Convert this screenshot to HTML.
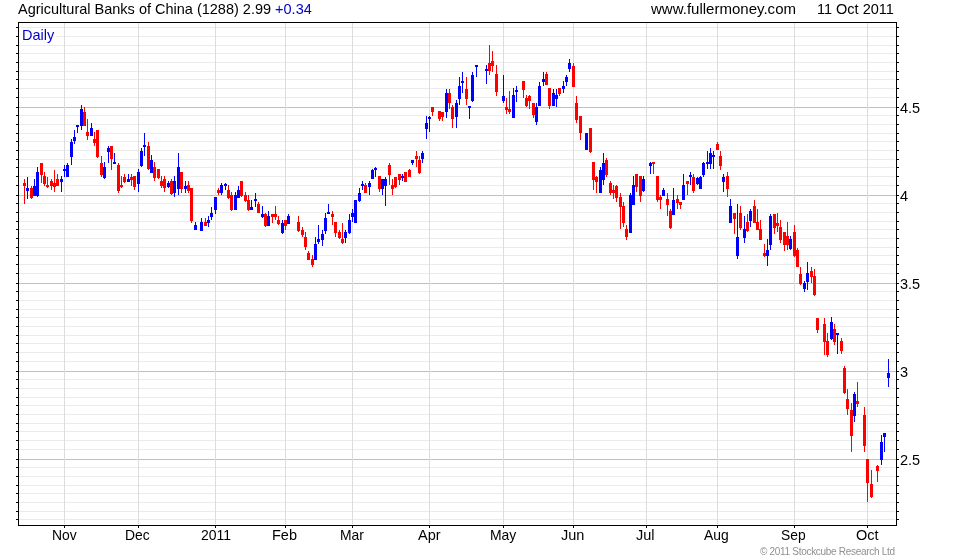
<!DOCTYPE html><html><head><meta charset="utf-8"><style>html,body{margin:0;padding:0;background:#fff;width:980px;height:560px;overflow:hidden}svg{display:block}text{font-family:"Liberation Sans",sans-serif}</style></head><body><svg width="980" height="560" viewBox="0 0 980 560" shape-rendering="crispEdges"><rect width="980" height="560" fill="#fff"/><path d="M19 27.5H895M19 36.5H895M19 45.5H895M19 53.5H895M19 62.5H895M19 71.5H895M19 79.5H895M19 88.5H895M19 97.5H895M19 115.5H895M19 124.5H895M19 133.5H895M19 141.5H895M19 150.5H895M19 159.5H895M19 167.5H895M19 176.5H895M19 185.5H895M19 203.5H895M19 212.5H895M19 221.5H895M19 229.5H895M19 238.5H895M19 247.5H895M19 255.5H895M19 264.5H895M19 273.5H895M19 291.5H895M19 300.5H895M19 309.5H895M19 317.5H895M19 326.5H895M19 335.5H895M19 343.5H895M19 352.5H895M19 361.5H895M19 379.5H895M19 388.5H895M19 397.5H895M19 405.5H895M19 414.5H895M19 423.5H895M19 431.5H895M19 440.5H895M19 449.5H895M19 467.5H895M19 476.5H895M19 485.5H895M19 493.5H895M19 502.5H895M19 511.5H895M19 519.5H895" stroke="#ebebeb" stroke-width="1" fill="none"/><path d="M19 107.5H896M19 195.5H896M19 283.5H896M19 371.5H896M19 459.5H896" stroke="#c0c0c0" stroke-width="1" fill="none"/><path d="M64.5 23V524M138.5 23V524M215.5 23V524M285.5 23V524M352.5 23V524M429.5 23V524M503.5 23V524M573.5 23V524M646.5 23V524M717.5 23V524M794.5 23V524M867.5 23V524" stroke="#dcdcdc" stroke-width="1" fill="none"/><path d="M27.5 177V199M34.5 179V196M37.5 167V197M61.5 176V192M64.5 165V177M67.5 163V177M71.5 139V165M74.5 130V144M77.5 125V133M81.5 105V130M91.5 123V136M104.5 162V179M108.5 146V163M114.5 153V164M128.5 174V182M138.5 169V192M141.5 148V167M144.5 133V156M151.5 155V173M168.5 181V188M174.5 176V197M178.5 153V195M185.5 181V193M195.5 222V230M201.5 218V231M208.5 216V227M211.5 207V220M215.5 197V214M221.5 183V195M225.5 183V190M235.5 192V210M238.5 186V198M251.5 200V210M255.5 193V207M262.5 206V218M268.5 211V226M282.5 220V234M288.5 214V224M315.5 237V260M318.5 225V244M322.5 230V246M325.5 213V234M328.5 204V214M345.5 230V243M349.5 214V234M352.5 209V222M355.5 200V223M359.5 188V202M362.5 181V190M369.5 181V195M372.5 169V179M375.5 167V177M382.5 179V195M385.5 177V206M402.5 174V181M412.5 160V165M422.5 151V163M426.5 116V139M429.5 116V132M446.5 89V118M456.5 100V128M459.5 77V105M462.5 72V93M469.5 106V119M472.5 72V102M476.5 65V77M486.5 65V84M503.5 75V103M513.5 88V118M516.5 86V102M536.5 103V125M539.5 82V106M543.5 72V86M553.5 89V106M556.5 89V107M563.5 81V93M566.5 75V86M569.5 59V72M586.5 133V150M600.5 167V193M603.5 153V185M630.5 193V233M633.5 176V205M643.5 176V192M650.5 162V174M663.5 188V196M673.5 188V215M683.5 174V200M690.5 172V185M697.5 177V185M700.5 176V189M703.5 162V177M707.5 151V169M710.5 148V169M713.5 151V169M723.5 174V192M730.5 199V223M737.5 204V259M744.5 216V243M750.5 209V227M767.5 239V266M770.5 214V250M790.5 236V250M804.5 281V292M807.5 262V290M831.5 317V340M837.5 333V354M854.5 392V422M881.5 435V465M884.5 433V452M888.5 359V387" stroke="#0000ff" stroke-width="1" fill="none"/><path d="M26 188h3V191h-3zM33 186h3V196h-3zM36 172h3V196h-3zM60 179h3V182h-3zM63 169h3V171h-3zM66 165h3V177h-3zM70 142h3V157h-3zM73 137h3V141h-3zM76 125h3V127h-3zM80 109h3V126h-3zM90 128h3V136h-3zM103 167h3V178h-3zM107 148h3V152h-3zM113 162h3V164h-3zM127 179h3V182h-3zM137 172h3V184h-3zM140 151h3V166h-3zM143 145h3V147h-3zM150 160h3V173h-3zM167 183h3V187h-3zM173 181h3V193h-3zM177 167h3V189h-3zM184 186h3V189h-3zM194 225h3V230h-3zM200 222h3V231h-3zM207 220h3V223h-3zM210 213h3V217h-3zM214 197h3V210h-3zM220 185h3V193h-3zM224 184h3V186h-3zM234 195h3V210h-3zM237 190h3V198h-3zM250 207h3V210h-3zM254 199h3V201h-3zM261 214h3V217h-3zM267 216h3V226h-3zM281 223h3V233h-3zM287 216h3V224h-3zM314 244h3V260h-3zM317 239h3V242h-3zM321 234h3V240h-3zM324 218h3V231h-3zM327 212h3V214h-3zM344 232h3V238h-3zM348 220h3V233h-3zM351 213h3V217h-3zM354 200h3V223h-3zM358 193h3V201h-3zM361 184h3V186h-3zM368 183h3V187h-3zM371 170h3V179h-3zM374 168h3V170h-3zM381 179h3V189h-3zM384 179h3V186h-3zM401 176h3V178h-3zM411 160h3V163h-3zM421 153h3V159h-3zM425 123h3V129h-3zM428 117h3V119h-3zM445 93h3V112h-3zM455 103h3V117h-3zM458 86h3V99h-3zM461 81h3V83h-3zM468 106h3V108h-3zM471 75h3V101h-3zM475 65h3V67h-3zM485 69h3V71h-3zM502 96h3V101h-3zM512 95h3V118h-3zM515 90h3V92h-3zM535 107h3V122h-3zM538 86h3V106h-3zM542 79h3V82h-3zM552 93h3V106h-3zM555 95h3V99h-3zM562 86h3V89h-3zM565 77h3V82h-3zM568 63h3V69h-3zM585 133h3V150h-3zM599 170h3V193h-3zM602 163h3V180h-3zM629 195h3V233h-3zM632 185h3V205h-3zM642 179h3V191h-3zM649 163h3V166h-3zM662 190h3V196h-3zM672 200h3V215h-3zM682 185h3V200h-3zM689 175h3V177h-3zM696 178h3V184h-3zM699 177h3V189h-3zM702 163h3V175h-3zM706 162h3V164h-3zM709 153h3V164h-3zM712 155h3V157h-3zM722 177h3V182h-3zM729 206h3V223h-3zM736 237h3V256h-3zM743 229h3V238h-3zM749 211h3V221h-3zM766 250h3V256h-3zM769 216h3V245h-3zM789 239h3V249h-3zM803 283h3V289h-3zM806 273h3V282h-3zM830 322h3V339h-3zM836 333h3V335h-3zM853 394h3V416h-3zM880 442h3V460h-3zM883 433h3V437h-3zM887 373h3V378h-3z" fill="#0000ff"/><path d="M24.5 179V204M31.5 186V199M41.5 163V183M44.5 172V186M47.5 177V188M51.5 179V190M54.5 170V192M57.5 174V186M84.5 107V126M87.5 119V140M94.5 132V146M97.5 130V158M101.5 156V177M111.5 146V170M118.5 163V193M121.5 176V188M124.5 174V183M131.5 174V186M134.5 176V190M148.5 142V170M154.5 162V181M158.5 169V179M161.5 176V188M164.5 176V192M171.5 179V195M181.5 172V193M188.5 181V193M191.5 188V223M205.5 218V226M218.5 188V195M228.5 185V199M231.5 192V211M241.5 181V197M245.5 192V202M248.5 195V211M258.5 202V213M265.5 213V227M272.5 214V223M275.5 206V220M278.5 216V225M285.5 220V230M298.5 216V232M302.5 227V237M305.5 232V250M308.5 251V260M312.5 255V267M332.5 211V225M335.5 222V237M339.5 230V239M342.5 223V244M365.5 183V193M379.5 176V192M389.5 163V185M392.5 179V195M395.5 177V188M399.5 174V185M405.5 172V182M409.5 169V177M416.5 151V167M419.5 156V174M432.5 107V116M439.5 111V121M442.5 112V121M449.5 89V109M452.5 105V128M466.5 77V105M489.5 45V75M492.5 51V72M496.5 65V96M506.5 98V114M509.5 91V114M523.5 81V98M526.5 95V107M529.5 95V109M533.5 103V118M546.5 72V85M549.5 88V109M559.5 88V96M573.5 63V87M576.5 96V123M580.5 116V140M590.5 128V153M593.5 162V190M596.5 176V193M606.5 158V177M610.5 181V195M613.5 185V199M616.5 185V202M620.5 193V229M623.5 202V227M626.5 225V240M636.5 174V192M640.5 176V202M653.5 162V174M657.5 176V202M660.5 195V209M667.5 193V216M670.5 209V229M677.5 195V209M680.5 202V209M687.5 181V195M693.5 174V193M717.5 142V150M720.5 151V170M727.5 172V197M734.5 213V234M740.5 206V230M747.5 214V232M754.5 200V223M757.5 209V230M760.5 220V240M764.5 244V257M774.5 214V234M777.5 213V232M780.5 220V243M784.5 232V251M787.5 222V250M794.5 225V257M797.5 248V267M800.5 267V285M811.5 267V283M814.5 269V296M817.5 318V333M824.5 318V355M827.5 333V357M834.5 324V345M841.5 338V354M844.5 366V394M847.5 389V415M851.5 403V452M857.5 382V407M864.5 407V452M867.5 459V502M871.5 470V498M877.5 465V482" stroke="#ff0000" stroke-width="1" fill="none"/><path d="M23 183h3V186h-3zM30 188h3V198h-3zM40 163h3V175h-3zM43 176h3V184h-3zM46 185h3V187h-3zM50 181h3V186h-3zM53 183h3V187h-3zM56 179h3V186h-3zM83 112h3V126h-3zM86 132h3V136h-3zM93 139h3V143h-3zM96 130h3V157h-3zM100 163h3V175h-3zM110 146h3V159h-3zM117 165h3V191h-3zM120 185h3V187h-3zM123 177h3V182h-3zM130 177h3V180h-3zM133 176h3V187h-3zM147 146h3V169h-3zM153 167h3V178h-3zM157 169h3V178h-3zM160 181h3V186h-3zM163 179h3V188h-3zM170 181h3V194h-3zM180 172h3V189h-3zM187 185h3V191h-3zM190 188h3V221h-3zM204 222h3V226h-3zM217 190h3V193h-3zM227 190h3V198h-3zM230 195h3V210h-3zM240 181h3V196h-3zM244 195h3V201h-3zM247 200h3V210h-3zM257 204h3V213h-3zM264 214h3V226h-3zM271 214h3V217h-3zM274 214h3V217h-3zM277 220h3V224h-3zM284 220h3V226h-3zM297 222h3V231h-3zM301 230h3V235h-3zM304 237h3V247h-3zM307 253h3V260h-3zM311 259h3V265h-3zM331 214h3V217h-3zM334 222h3V233h-3zM338 232h3V238h-3zM341 239h3V243h-3zM364 185h3V193h-3zM378 176h3V189h-3zM388 165h3V175h-3zM391 185h3V189h-3zM394 177h3V187h-3zM398 174h3V180h-3zM404 172h3V182h-3zM408 170h3V177h-3zM415 156h3V159h-3zM418 160h3V173h-3zM431 107h3V112h-3zM438 111h3V119h-3zM441 112h3V117h-3zM448 93h3V103h-3zM451 107h3V119h-3zM465 89h3V99h-3zM488 63h3V71h-3zM491 61h3V66h-3zM495 74h3V92h-3zM505 107h3V110h-3zM508 109h3V112h-3zM522 81h3V90h-3zM525 98h3V106h-3zM528 96h3V101h-3zM532 103h3V115h-3zM545 74h3V85h-3zM548 88h3V106h-3zM558 88h3V94h-3zM572 66h3V87h-3zM575 103h3V120h-3zM579 116h3V133h-3zM589 128h3V152h-3zM592 162h3V180h-3zM595 177h3V182h-3zM605 160h3V175h-3zM609 183h3V193h-3zM612 190h3V193h-3zM615 186h3V198h-3zM619 197h3V207h-3zM622 206h3V223h-3zM625 229h3V237h-3zM635 174h3V187h-3zM639 176h3V196h-3zM652 162h3V164h-3zM656 176h3V200h-3zM659 197h3V200h-3zM666 199h3V205h-3zM669 211h3V228h-3zM676 199h3V203h-3zM679 202h3V205h-3zM686 181h3V184h-3zM692 177h3V191h-3zM716 144h3V150h-3zM719 156h3V166h-3zM726 176h3V189h-3zM733 213h3V219h-3zM739 213h3V228h-3zM746 222h3V231h-3zM753 206h3V223h-3zM756 222h3V230h-3zM759 229h3V240h-3zM763 253h3V256h-3zM773 214h3V228h-3zM776 223h3V226h-3zM779 227h3V240h-3zM783 232h3V245h-3zM786 236h3V245h-3zM793 232h3V256h-3zM796 250h3V267h-3zM799 274h3V284h-3zM810 271h3V277h-3zM813 276h3V295h-3zM816 318h3V330h-3zM823 324h3V342h-3zM826 341h3V355h-3zM833 329h3V342h-3zM840 341h3V351h-3zM843 368h3V393h-3zM846 399h3V409h-3zM850 410h3V436h-3zM856 401h3V404h-3zM863 415h3V446h-3zM866 459h3V483h-3zM870 484h3V497h-3zM876 466h3V471h-3z" fill="#ff0000"/><rect x="19" y="28" width="37" height="17" fill="#fff"/><path d="M18.5 22.5H896.5V525.5H18.5Z" stroke="#000" stroke-width="1" fill="none"/><path d="M16 27.5H18M16 36.5H18M16 45.5H18M16 53.5H18M16 62.5H18M16 71.5H18M16 79.5H18M16 88.5H18M16 97.5H18M16 107.5H18M16 115.5H18M16 124.5H18M16 133.5H18M16 141.5H18M16 150.5H18M16 159.5H18M16 167.5H18M16 176.5H18M16 185.5H18M16 195.5H18M16 203.5H18M16 212.5H18M16 221.5H18M16 229.5H18M16 238.5H18M16 247.5H18M16 255.5H18M16 264.5H18M16 273.5H18M16 283.5H18M16 291.5H18M16 300.5H18M16 309.5H18M16 317.5H18M16 326.5H18M16 335.5H18M16 343.5H18M16 352.5H18M16 361.5H18M16 371.5H18M16 379.5H18M16 388.5H18M16 397.5H18M16 405.5H18M16 414.5H18M16 423.5H18M16 431.5H18M16 440.5H18M16 449.5H18M16 459.5H18M16 467.5H18M16 476.5H18M16 485.5H18M16 493.5H18M16 502.5H18M16 511.5H18M16 519.5H18M897 27.5H899M897 36.5H899M897 45.5H899M897 53.5H899M897 62.5H899M897 71.5H899M897 79.5H899M897 88.5H899M897 97.5H899M897 107.5H899M897 115.5H899M897 124.5H899M897 133.5H899M897 141.5H899M897 150.5H899M897 159.5H899M897 167.5H899M897 176.5H899M897 185.5H899M897 195.5H899M897 203.5H899M897 212.5H899M897 221.5H899M897 229.5H899M897 238.5H899M897 247.5H899M897 255.5H899M897 264.5H899M897 273.5H899M897 283.5H899M897 291.5H899M897 300.5H899M897 309.5H899M897 317.5H899M897 326.5H899M897 335.5H899M897 343.5H899M897 352.5H899M897 361.5H899M897 371.5H899M897 379.5H899M897 388.5H899M897 397.5H899M897 405.5H899M897 414.5H899M897 423.5H899M897 431.5H899M897 440.5H899M897 449.5H899M897 459.5H899M897 467.5H899M897 476.5H899M897 485.5H899M897 493.5H899M897 502.5H899M897 511.5H899M897 519.5H899M64.5 526V528M138.5 526V528M215.5 526V528M285.5 526V528M352.5 526V528M429.5 526V528M503.5 526V528M573.5 526V528M646.5 526V528M717.5 526V528M794.5 526V528M867.5 526V528" stroke="#000" stroke-width="1" fill="none"/></svg><svg style="position:absolute;left:0;top:0;will-change:transform" width="980" height="560"><text x="18" y="14" font-size="14.5" fill="#000" textLength="293.81" lengthAdjust="spacingAndGlyphs">Agricultural Banks of China (1288) 2.99 <tspan fill="#0000cc">+0.34</tspan></text><text x="651" y="14" font-size="14.5" fill="#000" textLength="145.02" lengthAdjust="spacingAndGlyphs">www.fullermoney.com</text><text x="817" y="14" font-size="14.5" fill="#000" textLength="76.86" lengthAdjust="spacingAndGlyphs">11 Oct 2011</text><text x="22" y="40" font-size="14.5" fill="#0000cc" textLength="32.23" lengthAdjust="spacingAndGlyphs">Daily</text><text x="900" y="113" font-size="14.5" fill="#000">4.5</text><text x="900" y="201" font-size="14.5" fill="#000">4</text><text x="900" y="289" font-size="14.5" fill="#000">3.5</text><text x="900" y="377" font-size="14.5" fill="#000">3</text><text x="900" y="465" font-size="14.5" fill="#000">2.5</text><text x="52" y="540" font-size="14.5" fill="#000" textLength="24.72" lengthAdjust="spacingAndGlyphs">Nov</text><text x="125" y="540" font-size="14.5" fill="#000" textLength="24.68" lengthAdjust="spacingAndGlyphs">Dec</text><text x="201" y="540" font-size="14.5" fill="#000" textLength="30.07" lengthAdjust="spacingAndGlyphs">2011</text><text x="272" y="540" font-size="14.5" fill="#000" textLength="25.0" lengthAdjust="spacingAndGlyphs">Feb</text><text x="340" y="540" font-size="14.5" fill="#000" textLength="23.9" lengthAdjust="spacingAndGlyphs">Mar</text><text x="418" y="540" font-size="14.5" fill="#000" textLength="22.58" lengthAdjust="spacingAndGlyphs">Apr</text><text x="490" y="540" font-size="14.5" fill="#000" textLength="26.31" lengthAdjust="spacingAndGlyphs">May</text><text x="561" y="540" font-size="14.5" fill="#000" textLength="23.39" lengthAdjust="spacingAndGlyphs">Jun</text><text x="636" y="540" font-size="14.5" fill="#000" textLength="18.55" lengthAdjust="spacingAndGlyphs">Jul</text><text x="704" y="540" font-size="14.5" fill="#000" textLength="24.74" lengthAdjust="spacingAndGlyphs">Aug</text><text x="781" y="540" font-size="14.5" fill="#000" textLength="24.69" lengthAdjust="spacingAndGlyphs">Sep</text><text x="856" y="540" font-size="14.5" fill="#000" textLength="22.56" lengthAdjust="spacingAndGlyphs">Oct</text><text x="760" y="555" font-size="10" fill="#909090" textLength="135" lengthAdjust="spacing">© 2011 Stockcube Research Ltd</text></svg></body></html>
